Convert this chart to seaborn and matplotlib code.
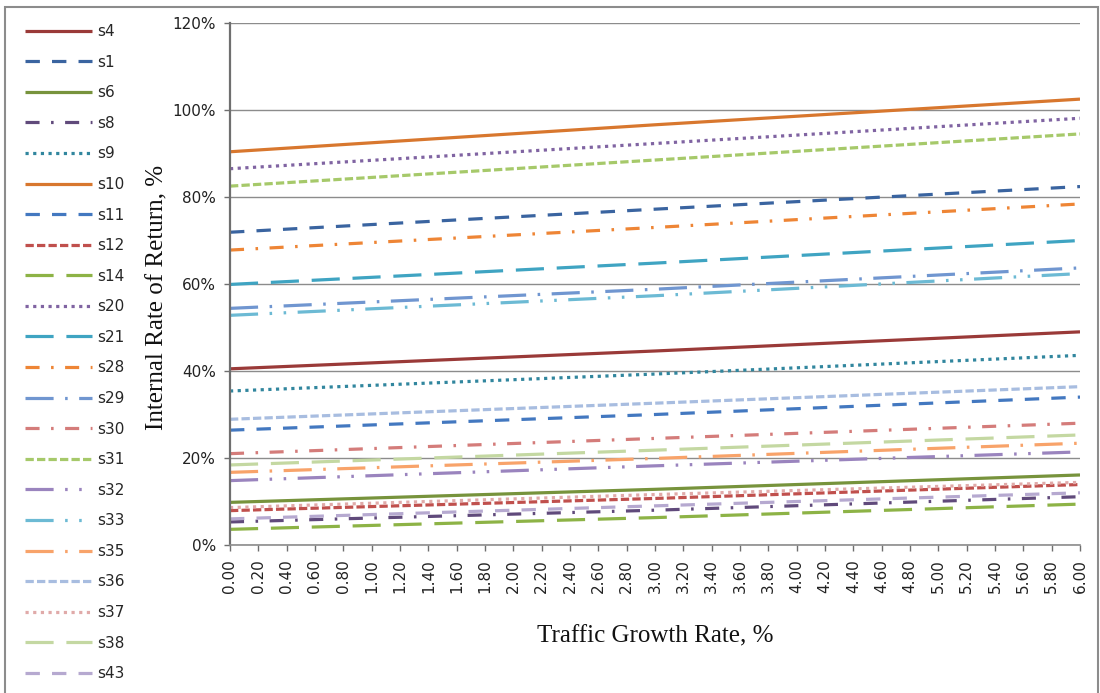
import numpy as np
import pandas as pd
import matplotlib
matplotlib.use("Agg")
import matplotlib.pyplot as plt
from matplotlib.patches import Rectangle
from matplotlib.ticker import FuncFormatter
import seaborn as sns

# Traffic growth rate (%) at which each scenario's IRR is read
growth = [0.0, 3.0, 6.0]

# Internal rate of return (%) per scenario
s4 = [40.5, 44.6, 49.0]
s1 = [71.9, 77.2, 82.4]
s6 = [9.8, 12.8, 16.1]
s8 = [5.3, 8.0, 11.1]
s9 = [35.4, 39.3, 43.6]
s10 = [90.4, 96.6, 102.5]
s11 = [26.4, 30.0, 34.0]
s12 = [7.9, 10.7, 13.9]
s14 = [3.6, 6.3, 9.4]
s20 = [86.5, 92.3, 98.1]
s21 = [59.9, 64.8, 70.0]
s28 = [67.8, 73.0, 78.4]
s29 = [54.4, 58.8, 63.7]
s30 = [21.0, 24.5, 28.0]
s31 = [82.5, 88.5, 94.5]
s32 = [14.8, 18.2, 21.4]
s33 = [52.8, 57.3, 62.4]
s35 = [16.7, 19.9, 23.4]
s36 = [28.9, 32.6, 36.4]
s37 = [8.6, 11.6, 14.4]
s38 = [18.4, 21.8, 25.3]
s43 = [6.0, 9.0, 12.0]

series_names = ["s4", "s1", "s6", "s8", "s9", "s10", "s11", "s12", "s14", "s20",
                "s21", "s28", "s29", "s30", "s31", "s32", "s33", "s35", "s36",
                "s37", "s38", "s43"]
series_values = [s4, s1, s6, s8, s9, s10, s11, s12, s14, s20, s21, s28, s29,
                 s30, s31, s32, s33, s35, s36, s37, s38, s43]

# x-axis category labels
x_ticks = [round(0.2 * i, 2) for i in range(31)]
x_tick_labels = [f"{v:.2f}" for v in x_ticks]

colors = {
    "s4": "#9A3A38", "s1": "#3A64A0", "s6": "#77933C", "s8": "#604A7B",
    "s9": "#31869E", "s10": "#D8772E", "s11": "#4378C0", "s12": "#C0504D",
    "s14": "#8DB346", "s20": "#8064A2", "s21": "#3FA4C2", "s28": "#EE8535",
    "s29": "#7096D0", "s30": "#D47C7A", "s31": "#A6C96A", "s32": "#9A84BE",
    "s33": "#6CBAD4", "s35": "#F8A36A", "s36": "#A8BDE0", "s37": "#E0AAA9",
    "s38": "#C4D8A2", "s43": "#B6A9D0",
}

solid = ""
dash = (4.5, 3.8)
sys_dash = (2.6, 1.0)
long_dash = (8.8, 4.0)
dash_dot = (4.4, 3.6, 0.8, 3.6)
lg_dash_dot = (8.8, 3.6, 0.8, 3.6)
lg_dash_dot_dot = (8.8, 3.6, 0.8, 3.6, 0.8, 3.6)
sys_dot = (1.0, 1.4)

dash_styles = {
    "s4": solid, "s1": dash, "s6": solid, "s8": dash_dot, "s9": sys_dot,
    "s10": solid, "s11": dash, "s12": sys_dash, "s14": long_dash,
    "s20": sys_dot, "s21": long_dash, "s28": dash_dot, "s29": lg_dash_dot,
    "s30": dash_dot, "s31": sys_dash, "s32": lg_dash_dot_dot,
    "s33": lg_dash_dot_dot, "s35": lg_dash_dot, "s36": sys_dash,
    "s37": sys_dot, "s38": long_dash, "s43": dash,
}

rows = []
for name, vals in zip(series_names, series_values):
    for g, v in zip(growth, vals):
        rows.append({"growth": g, "irr": v, "scenario": name})
df = pd.DataFrame(rows)

sns.set_theme(style="white")
plt.rcParams["font.family"] = ["DejaVu Sans"]
plt.rcParams["lines.solid_capstyle"] = "butt"
plt.rcParams["lines.dash_capstyle"] = "butt"

fig = plt.figure(figsize=(11, 6.93), dpi=100)
ax = fig.add_axes([230 / 1100, 1 - 545 / 693, 850 / 1100, 522 / 693])

sns.lineplot(
    data=df, x="growth", y="irr", hue="scenario", style="scenario",
    hue_order=series_names, style_order=series_names,
    palette=colors, dashes=dash_styles, linewidth=2.3,
    legend="full", ax=ax,
)

ax.set_xlim(0, 6)
ax.set_ylim(0, 120)
ax.set_yticks(np.arange(0, 121, 20))
ax.yaxis.set_major_formatter(FuncFormatter(lambda v, _: f"{v:.0f}%"))
ax.set_xticks(x_ticks)
ax.set_xticklabels(x_tick_labels, rotation=90, va="top", ha="center")

ax.grid(axis="y", color="#8c8c8c", linewidth=1.0)
ax.grid(axis="x", visible=False)
ax.set_axisbelow(True)
for side in ("top", "right"):
    ax.spines[side].set_visible(False)
ax.spines["left"].set_color("#6f6f6f")
ax.spines["left"].set_linewidth(1.6)
ax.spines["bottom"].set_color("#8c8c8c")
ax.spines["bottom"].set_linewidth(1.2)

ax.tick_params(axis="y", direction="out", length=4.5, width=1.0, color="#6f6f6f",
               pad=5.5, labelsize=11, labelcolor="#222222", left=True)
ax.tick_params(axis="x", direction="out", length=4, width=1.0, color="#6f6f6f",
               pad=6, labelsize=11, labelcolor="#222222", bottom=True)

serif = ["Liberation Serif", "DejaVu Serif"]
ax.set_xlabel("Traffic Growth Rate, %", fontsize=18, family=serif, color="#111111")
ax.set_ylabel("Internal Rate of Return, %", fontsize=18, family=serif, color="#111111")
ax.xaxis.set_label_coords(0.5, -0.154)
ax.yaxis.set_label_coords(-0.072, 0.475)

handles, labels = ax.get_legend_handles_labels()
ax.get_legend().remove()
fig.legend(
    handles, labels, loc="upper left", bbox_to_anchor=(25 / 1100, 1 - 24 / 693),
    frameon=False, fontsize=11, handlelength=4.4, handletextpad=0.35,
    labelspacing=1.02, borderpad=0, borderaxespad=0,
)

# outer chart border
fig.patches.append(Rectangle((5 / 1100, -0.05), 1093 / 1100, 1 - 7 / 693 + 0.05,
                             transform=fig.transFigure, fill=False,
                             edgecolor="#8c8c8c", linewidth=1.5))

fig.savefig("out.png", dpi=100)
